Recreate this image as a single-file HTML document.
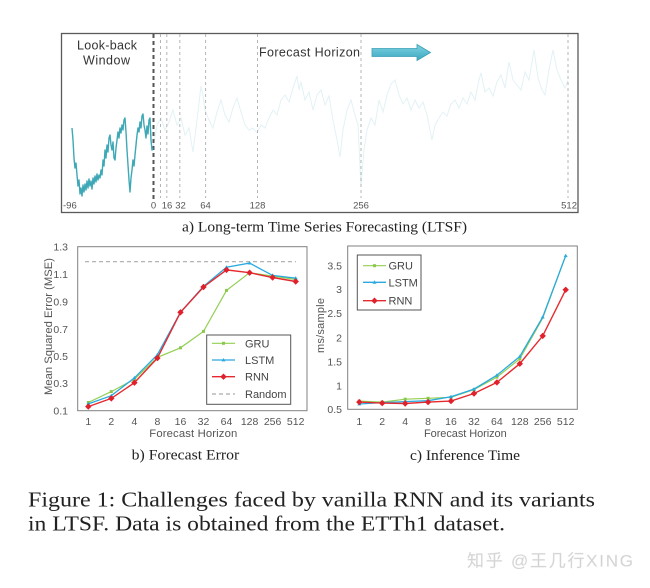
<!DOCTYPE html>
<html><head><meta charset="utf-8"><style>
html,body{margin:0;padding:0;background:#fff;}
svg{display:block;}
.t{font-family:"Liberation Sans",Arial,sans-serif;fill:#555;}
.s{font-family:"Liberation Serif","Times New Roman",serif;fill:#222;}
</style></head><body>
<svg width="650" height="588" viewBox="0 0 650 588" xmlns="http://www.w3.org/2000/svg">
<defs>
<linearGradient id="ag" x1="0" y1="0" x2="0" y2="1">
<stop offset="0" stop-color="#7fd3e2"/><stop offset="1" stop-color="#3aa7c0"/>
</linearGradient>
</defs>
<rect width="650" height="588" fill="#fff"/>

<!-- ===== Top chart ===== -->
<rect x="61.5" y="33.5" width="516.5" height="179" fill="none" stroke="#5a5a5a" stroke-width="1.3"/>
<!-- forecast faint series -->
<polyline fill="none" stroke="#e2f2f5" stroke-width="1" points="153,148 157,125 161,118 165,130 169,122 173,110 177,125 181,118 185,135 189,128 193,152 197,120 201,86 203,95 205,110 209,120 213,128 217,112 221,100 225,115 229,122 233,108 237,98 241,112 245,125 249,130 253,128 257,133 261,125 265,128 269,118 273,110 277,115 281,100 285,95 289,102 293,88 297,76 299,90 301,82 305,100 309,92 313,110 317,95 321,90 325,105 329,96 333,120 337,140 340,157 343,130 347,110 351,100 355,115 358,125 361,187 364,150 367,130 371,118 375,125 379,100 383,112 387,95 391,84 395,80 399,95 403,104 407,98 411,110 415,100 419,108 423,102 427,115 432,140 435,125 439,118 443,112 447,116 451,104 455,100 459,108 463,98 467,104 471,92 475,100 479,80 481,73 485,92 489,88 493,96 497,82 501,75 505,88 509,62 513,80 517,85 521,90 525,72 529,80 534,50 538,78 542,90 545,95 549,70 553,50 557,70 561,80 565,88 568,80"/>
<!-- vertical dashed lines -->
<g stroke="#b5b5b5" stroke-width="1" stroke-dasharray="3,3">
<line x1="160.5" y1="34" x2="160.5" y2="198"/>
<line x1="166.8" y1="34" x2="166.8" y2="198"/>
<line x1="179.8" y1="34" x2="179.8" y2="198"/>
<line x1="205.6" y1="34" x2="205.6" y2="198"/>
<line x1="257.5" y1="34" x2="257.5" y2="198"/>
<line x1="361" y1="34" x2="361" y2="198"/>
<line x1="568" y1="34" x2="568" y2="198"/>
</g>
<line x1="153.5" y1="34" x2="153.5" y2="200" stroke="#555" stroke-width="2" stroke-dasharray="4,3"/>
<!-- lookback series -->
<polyline fill="none" stroke="#3ea8b6" stroke-width="1.4" stroke-linejoin="round" points="72,128 73,140 74,158 75,168 76,163 77,175 78,186 79,180 80,194 81,188 82,196 83,185 84,192 85,184 86,190 87,181 88,188 89,179 90,186 91,181 92,189 93,178 94,184 95,176 96,182 97,174 98,180 99,175 100,178 101,170 102,175 103,160 104,166 105,150 106,158 107,145 108,152 109,138 110,135 111,145 112,150 113,142 114,158 115,160 116,148 117,140 118,132 119,138 120,128 121,133 122,125 123,130 124,120 125,118 126,132 127,150 128,165 129,180 130,192 131,178 132,170 133,160 134,166 135,155 136,145 137,135 138,128 139,132 140,122 141,128 142,116 143,114 144,125 145,130 146,138 147,126 148,134 149,120 150,118 151,140 152,150 153,148"/>
<!-- labels -->
<text class="t" x="77" y="49.5" font-size="12.5" style="fill:#333" textLength="60">Look-back</text>
<text class="t" x="83" y="64.5" font-size="12.5" style="fill:#333" textLength="47">Window</text>
<text class="t" x="259" y="56.5" font-size="12.5" style="fill:#333" textLength="101">Forecast Horizon</text>
<!-- arrow -->
<path d="M372,48.5 L417,48.5 L417,44.5 L430.5,52.5 L417,60.5 L417,56.5 L372,56.5 Z" fill="url(#ag)" stroke="#3b9fb6" stroke-width="0.8"/>
<!-- ticks -->
<g class="t" font-size="9.5" style="fill:#555">
<text x="63" y="208.5">-96</text>
<text x="153.5" y="208.5" text-anchor="middle">0</text>
<text x="167" y="208.5" text-anchor="middle">16</text>
<text x="180.5" y="208.5" text-anchor="middle">32</text>
<text x="205.5" y="208.5" text-anchor="middle">64</text>
<text x="257.5" y="208.5" text-anchor="middle">128</text>
<text x="361" y="208.5" text-anchor="middle">256</text>
<text x="577" y="208.5" text-anchor="end">512</text>
</g>
<text class="s" x="182" y="231.5" font-size="15" textLength="285" lengthAdjust="spacingAndGlyphs">a) Long-term Time Series Forecasting (LTSF)</text>

<!-- ===== Chart b ===== -->
<rect x="77.7" y="246.7" width="229.3" height="164" fill="none" stroke="#808080" stroke-width="1"/>
<g class="t" font-size="10.5" text-anchor="end">
<text x="68" y="250.5">1.3</text>
<text x="68" y="278">1.1</text>
<text x="68" y="305.5">0.9</text>
<text x="68" y="332.8">0.7</text>
<text x="68" y="359.8">0.5</text>
<text x="68" y="387">0.3</text>
<text x="68" y="414.5">0.1</text>
</g>
<g class="t" font-size="10.5" text-anchor="middle">
<text x="88.3" y="425">1</text>
<text x="111.3" y="425">2</text>
<text x="134.4" y="425">4</text>
<text x="157.4" y="425">8</text>
<text x="180.5" y="425">16</text>
<text x="203.5" y="425">32</text>
<text x="226.5" y="425">64</text>
<text x="249.6" y="425">128</text>
<text x="272.6" y="425">256</text>
<text x="295.7" y="425">512</text>
</g>
<text class="t" x="149.3" y="437" font-size="11.3" textLength="88">Forecast Horizon</text>
<text class="t" transform="translate(52,326.5) rotate(-90)" x="0" y="0" font-size="11.2" text-anchor="middle" textLength="137">Mean Squared Error (MSE)</text>
<line x1="85" y1="261.7" x2="296" y2="261.7" stroke="#aaa" stroke-width="1.2" stroke-dasharray="4,3"/>
<!-- GRU -->
<polyline fill="none" stroke="#92cf52" stroke-width="1.2" points="88.3,402.5 111.3,391.6 134.4,379.3 157.4,357.4 180.5,347.8 203.5,331.4 226.5,290.4 249.6,272.7 272.6,276.1 295.7,279.5"/>
<g fill="#8cc84b">
<rect x="86.8" y="401" width="3" height="3"/><rect x="109.8" y="390.1" width="3" height="3"/><rect x="132.9" y="377.8" width="3" height="3"/><rect x="155.9" y="355.9" width="3" height="3"/><rect x="179" y="346.3" width="3" height="3"/><rect x="202" y="329.9" width="3" height="3"/><rect x="225" y="288.9" width="3" height="3"/><rect x="248.1" y="271.2" width="3" height="3"/><rect x="271.1" y="274.6" width="3" height="3"/><rect x="294.2" y="278" width="3" height="3"/>
</g>
<!-- LSTM -->
<polyline fill="none" stroke="#2aa9e0" stroke-width="1.3" points="88.3,403.9 111.3,395.7 134.4,377.9 157.4,354.7 180.5,312.3 203.5,286.3 226.5,267.2 249.6,263.1 272.6,275.4 295.7,278.1"/>
<g fill="#2aa9e0">
<path d="M88.3,401.9 l2,3.4 h-4z"/><path d="M111.3,393.7 l2,3.4 h-4z"/><path d="M134.4,375.9 l2,3.4 h-4z"/><path d="M157.4,352.7 l2,3.4 h-4z"/><path d="M180.5,310.3 l2,3.4 h-4z"/><path d="M203.5,284.3 l2,3.4 h-4z"/><path d="M226.5,265.2 l2,3.4 h-4z"/><path d="M249.6,261.1 l2,3.4 h-4z"/><path d="M272.6,273.4 l2,3.4 h-4z"/><path d="M295.7,276.1 l2,3.4 h-4z"/>
</g>
<!-- RNN -->
<polyline fill="none" stroke="#e52a2f" stroke-width="1.4" points="88.3,406.6 111.3,398.4 134.4,382.7 157.4,358.1 180.5,312.3 203.5,287 226.5,269.9 249.6,272.7 272.6,277.5 295.7,281.5"/>
<g fill="#e0202a">
<path d="M88.3,403.4 l3.2,3.2 l-3.2,3.2 l-3.2,-3.2z"/><path d="M111.3,395.2 l3.2,3.2 l-3.2,3.2 l-3.2,-3.2z"/><path d="M134.4,379.5 l3.2,3.2 l-3.2,3.2 l-3.2,-3.2z"/><path d="M157.4,354.9 l3.2,3.2 l-3.2,3.2 l-3.2,-3.2z"/><path d="M180.5,309.1 l3.2,3.2 l-3.2,3.2 l-3.2,-3.2z"/><path d="M203.5,283.8 l3.2,3.2 l-3.2,3.2 l-3.2,-3.2z"/><path d="M226.5,266.7 l3.2,3.2 l-3.2,3.2 l-3.2,-3.2z"/><path d="M249.6,269.5 l3.2,3.2 l-3.2,3.2 l-3.2,-3.2z"/><path d="M272.6,274.3 l3.2,3.2 l-3.2,3.2 l-3.2,-3.2z"/><path d="M295.7,278.3 l3.2,3.2 l-3.2,3.2 l-3.2,-3.2z"/>
</g>
<!-- legend b -->
<rect x="206.7" y="335" width="84" height="69.3" fill="#fff" stroke="#555" stroke-width="1"/>
<line x1="212" y1="343.3" x2="235" y2="343.3" stroke="#92cf52" stroke-width="1.2"/><rect x="222" y="341.8" width="3" height="3" fill="#8cc84b"/>
<line x1="212" y1="360" x2="235" y2="360" stroke="#2aa9e0" stroke-width="1.3"/><path d="M223.5,358 l2,3.4 h-4z" fill="#2aa9e0"/>
<line x1="212" y1="376.7" x2="235" y2="376.7" stroke="#e52a2f" stroke-width="1.4"/><path d="M223.5,373.5 l3.2,3.2 l-3.2,3.2 l-3.2,-3.2z" fill="#e0202a"/>
<line x1="212" y1="394" x2="235" y2="394" stroke="#aaa" stroke-width="1.2" stroke-dasharray="4,3"/>
<g class="t" font-size="11" style="fill:#444">
<text x="245" y="347.3">GRU</text>
<text x="245" y="364">LSTM</text>
<text x="245" y="380.7">RNN</text>
<text x="245" y="398">Random</text>
</g>
<text class="s" x="131.7" y="459.5" font-size="15" textLength="107.6" lengthAdjust="spacingAndGlyphs">b) Forecast Error</text>

<!-- ===== Chart c ===== -->
<rect x="347.7" y="246" width="229.6" height="163.3" fill="none" stroke="#808080" stroke-width="1"/>
<g class="t" font-size="10.5" text-anchor="end">
<text x="342" y="269.5">3.5</text>
<text x="342" y="293">3</text>
<text x="342" y="317">2.5</text>
<text x="342" y="341.5">2</text>
<text x="342" y="365.5">1.5</text>
<text x="342" y="389.5">1</text>
<text x="342" y="413">0.5</text>
</g>
<g class="t" font-size="10.5" text-anchor="middle">
<text x="359.3" y="425">1</text>
<text x="382.2" y="425">2</text>
<text x="405.2" y="425">4</text>
<text x="428.1" y="425">8</text>
<text x="451" y="425">16</text>
<text x="474" y="425">32</text>
<text x="496.9" y="425">64</text>
<text x="519.8" y="425">128</text>
<text x="542.7" y="425">256</text>
<text x="565.7" y="425">512</text>
</g>
<text class="t" x="424" y="437" font-size="11" textLength="82.7">Forecast Horizon</text>
<text class="t" transform="translate(324,325.5) rotate(-90)" x="0" y="0" font-size="11" text-anchor="middle" textLength="55">ms/sample</text>
<!-- GRU -->
<polyline fill="none" stroke="#92cf52" stroke-width="1.2" points="359.3,401.1 382.2,402.1 405.2,399.2 428.1,398.3 451,397.3 474,389.6 496.9,377.1 519.8,358.9 542.7,318.1 565.7,255.7"/>
<g fill="#8cc84b">
<rect x="357.8" y="399.6" width="3" height="3"/><rect x="380.7" y="400.6" width="3" height="3"/><rect x="403.7" y="397.7" width="3" height="3"/><rect x="426.6" y="396.8" width="3" height="3"/><rect x="449.5" y="395.8" width="3" height="3"/><rect x="472.5" y="388.1" width="3" height="3"/><rect x="495.4" y="375.6" width="3" height="3"/><rect x="518.3" y="357.4" width="3" height="3"/>
</g>
<!-- LSTM -->
<polyline fill="none" stroke="#2aa9e0" stroke-width="1.3" points="359.3,404 382.2,402.6 405.2,401.6 428.1,400.7 451,396.8 474,389.1 496.9,375.2 519.8,356.5 542.7,317.1 565.7,255.7"/>
<g fill="#2aa9e0">
<path d="M359.3,402 l2,3.4 h-4z"/><path d="M382.2,400.6 l2,3.4 h-4z"/><path d="M405.2,399.6 l2,3.4 h-4z"/><path d="M428.1,398.7 l2,3.4 h-4z"/><path d="M451,394.8 l2,3.4 h-4z"/><path d="M474,387.1 l2,3.4 h-4z"/><path d="M496.9,373.2 l2,3.4 h-4z"/><path d="M519.8,354.5 l2,3.4 h-4z"/><path d="M542.7,315.1 l2,3.4 h-4z"/><path d="M565.7,253.7 l2,3.4 h-4z"/>
</g>
<!-- RNN -->
<polyline fill="none" stroke="#e52a2f" stroke-width="1.4" points="359.3,402.1 382.2,403.1 405.2,403.5 428.1,402.1 451,401.1 474,393.5 496.9,382.4 519.8,363.7 542.7,335.9 565.7,289.8"/>
<g fill="#e0202a">
<path d="M359.3,398.9 l3.2,3.2 l-3.2,3.2 l-3.2,-3.2z"/><path d="M382.2,399.9 l3.2,3.2 l-3.2,3.2 l-3.2,-3.2z"/><path d="M405.2,400.3 l3.2,3.2 l-3.2,3.2 l-3.2,-3.2z"/><path d="M428.1,398.9 l3.2,3.2 l-3.2,3.2 l-3.2,-3.2z"/><path d="M451,397.9 l3.2,3.2 l-3.2,3.2 l-3.2,-3.2z"/><path d="M474,390.3 l3.2,3.2 l-3.2,3.2 l-3.2,-3.2z"/><path d="M496.9,379.2 l3.2,3.2 l-3.2,3.2 l-3.2,-3.2z"/><path d="M519.8,360.5 l3.2,3.2 l-3.2,3.2 l-3.2,-3.2z"/><path d="M542.7,332.7 l3.2,3.2 l-3.2,3.2 l-3.2,-3.2z"/><path d="M565.7,286.6 l3.2,3.2 l-3.2,3.2 l-3.2,-3.2z"/>
</g>
<!-- legend c -->
<rect x="357.3" y="255" width="63.7" height="55" fill="#fff" stroke="#555" stroke-width="1"/>
<line x1="363" y1="265.7" x2="386" y2="265.7" stroke="#92cf52" stroke-width="1.2"/><rect x="373" y="264.2" width="3" height="3" fill="#8cc84b"/>
<line x1="363" y1="282.3" x2="386" y2="282.3" stroke="#2aa9e0" stroke-width="1.3"/><path d="M374.5,280.3 l2,3.4 h-4z" fill="#2aa9e0"/>
<line x1="363" y1="300.7" x2="386" y2="300.7" stroke="#e52a2f" stroke-width="1.4"/><path d="M374.5,297.5 l3.2,3.2 l-3.2,3.2 l-3.2,-3.2z" fill="#e0202a"/>
<g class="t" font-size="11" style="fill:#444">
<text x="388.5" y="269.7">GRU</text>
<text x="388.5" y="286.3">LSTM</text>
<text x="388.5" y="304.7">RNN</text>
</g>
<text class="s" x="410" y="460" font-size="15" textLength="110" lengthAdjust="spacingAndGlyphs">c) Inference Time</text>

<!-- ===== Caption ===== -->
<text class="s" x="28" y="506.7" font-size="21.5" textLength="567" lengthAdjust="spacingAndGlyphs">Figure 1: Challenges faced by vanilla RNN and its variants</text>
<text class="s" x="28" y="530.5" font-size="21.5" textLength="477" lengthAdjust="spacingAndGlyphs">in LTSF. Data is obtained from the ETTh1 dataset.</text>

<!-- watermark -->
<text x="467" y="566.5" font-size="17" font-family="'Liberation Sans','Noto Sans CJK SC',sans-serif" fill="#d2d2d2" stroke="#e6e6e6" stroke-width="0.3" textLength="166">知乎 @王几行XING</text>
</svg>
</body></html>
